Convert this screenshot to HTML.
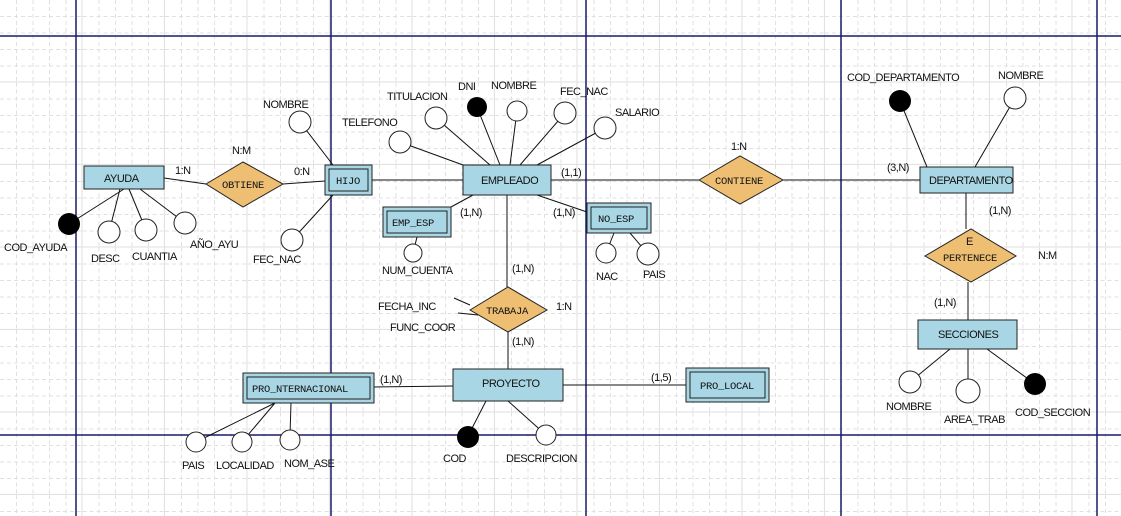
<!DOCTYPE html>
<html><head><meta charset="utf-8"><style>
html,body{margin:0;padding:0;background:#fff;}
svg{display:block;}
text{font-family:"Liberation Sans",sans-serif;font-size:11px;letter-spacing:-0.5px;fill:#111;}
.m{font-family:"Liberation Mono",monospace;font-size:10.5px;letter-spacing:-0.3px;}
</style></head><body>
<svg width="1121" height="516" viewBox="0 0 1121 516" xmlns="http://www.w3.org/2000/svg">
<defs>
<pattern id="g" width="82.5" height="82.5" patternUnits="userSpaceOnUse">
<path d="M16.5 0V82.5M33 0V82.5M49.5 0V82.5M66 0V82.5M0 16.5H82.5M0 33H82.5M0 49.5H82.5M0 66H82.5" stroke="#e0e0e0" stroke-width="1" stroke-dasharray="4,3" fill="none"/>
<path d="M82 0V82.5M0 82H82.5" stroke="#e2e2e2" stroke-width="1.2" fill="none"/>
</pattern>
</defs>
<rect width="1121" height="516" fill="url(#g)"/>
<g stroke="#1a1a6e" stroke-width="1.5">
<line x1="76" y1="0" x2="76" y2="516"/><line x1="331" y1="0" x2="331" y2="516"/>
<line x1="586" y1="0" x2="586" y2="516"/><line x1="841" y1="0" x2="841" y2="516"/>
<line x1="1097" y1="0" x2="1097" y2="516"/>
<line x1="0" y1="36" x2="1121" y2="36"/><line x1="0" y1="435" x2="1121" y2="435"/>
</g>
<g stroke="#111" stroke-width="1">
<line x1="164" y1="178" x2="206" y2="184"/><line x1="283" y1="184" x2="325" y2="181"/>
<line x1="124" y1="189" x2="69" y2="224"/><line x1="120" y1="189" x2="109" y2="232"/>
<line x1="129" y1="189" x2="146" y2="230"/><line x1="140" y1="189" x2="185" y2="223"/>
<line x1="333" y1="165" x2="300" y2="122"/><line x1="333" y1="195" x2="292" y2="240"/>
<line x1="372" y1="180" x2="463" y2="180"/>
<line x1="463" y1="165" x2="400" y2="142"/><line x1="490" y1="165" x2="436" y2="118"/>
<line x1="500" y1="165" x2="477" y2="107"/><line x1="510" y1="165" x2="517" y2="111"/>
<line x1="520" y1="165" x2="565" y2="113"/><line x1="537" y1="165" x2="605" y2="128"/>
<line x1="551" y1="180" x2="699" y2="180"/><line x1="783" y1="180" x2="920" y2="180"/>
<line x1="473" y1="195" x2="451" y2="207"/><line x1="537" y1="195" x2="587" y2="212"/>
<line x1="507" y1="195" x2="507" y2="287"/><line x1="508" y1="332" x2="508" y2="369"/>
<line x1="417" y1="237" x2="413" y2="253"/>
<line x1="614" y1="233" x2="606" y2="253"/><line x1="630" y1="233" x2="648" y2="254"/>
<line x1="454" y1="298" x2="470" y2="305"/><line x1="458" y1="313" x2="478" y2="315"/>
<line x1="374" y1="387" x2="453" y2="386"/><line x1="563" y1="385" x2="686" y2="385"/>
<line x1="275" y1="403" x2="196" y2="442"/><line x1="275" y1="403" x2="242" y2="442"/>
<line x1="291" y1="403" x2="290" y2="435"/>
<line x1="486" y1="401" x2="468" y2="436"/><line x1="508" y1="401" x2="546" y2="435"/>
<line x1="927" y1="167" x2="900" y2="101"/><line x1="975" y1="167" x2="1015" y2="98"/>
<line x1="966" y1="193" x2="966" y2="229"/><line x1="968" y1="282" x2="968" y2="320"/>
<line x1="950" y1="349" x2="910" y2="382"/><line x1="968" y1="349" x2="968" y2="391"/>
<line x1="987" y1="349" x2="1035" y2="384"/>
</g>
<g fill="#a9d6e4" stroke="#222" stroke-width="1">
<rect x="84" y="166" width="80" height="23"/>
<rect x="325" y="165" width="47" height="30"/><rect x="329" y="169" width="39" height="22"/>
<rect x="463" y="165" width="88" height="30"/>
<rect x="383" y="207" width="68" height="30"/><rect x="387" y="211" width="60" height="22"/>
<rect x="587" y="203" width="64" height="30"/><rect x="591" y="207" width="56" height="22"/>
<rect x="920" y="167" width="93" height="26"/>
<rect x="918" y="320" width="99" height="29"/>
<rect x="453" y="369" width="110" height="32"/>
<rect x="243" y="373" width="131" height="30"/><rect x="247" y="377" width="123" height="22"/>
<rect x="686" y="368" width="83" height="34"/><rect x="690" y="372" width="75" height="26"/>
</g>
<g fill="#eebf73" stroke="#222" stroke-width="1">
<polygon points="206,184 243,162 283,184 243,207"/>
<polygon points="699,180 740,156 783,180 740,204"/>
<polygon points="925,256 971,229 1016,256 971,282"/>
<polygon points="470,310 508,287 547,310 508,332"/>
</g>
<g fill="#fff" stroke="#222" stroke-width="1">
<circle cx="109" cy="232" r="11"/><circle cx="146" cy="230" r="11"/><circle cx="185" cy="223" r="11"/>
<circle cx="300" cy="122" r="11"/><circle cx="292" cy="240" r="11"/>
<circle cx="400" cy="142" r="11"/><circle cx="436" cy="118" r="11"/>
<circle cx="517" cy="111" r="10"/><circle cx="565" cy="113" r="11"/><circle cx="605" cy="128" r="11"/>
<circle cx="413" cy="253" r="9"/><circle cx="606" cy="253" r="10"/><circle cx="648" cy="254" r="11"/>
<circle cx="1015" cy="98" r="11"/><circle cx="910" cy="382" r="11"/><circle cx="968" cy="391" r="12"/>
<circle cx="196" cy="442" r="10"/><circle cx="242" cy="442" r="10"/><circle cx="290" cy="440" r="10"/>
<circle cx="546" cy="435" r="10"/>
</g>
<g fill="#000">
<circle cx="69" cy="224" r="11"/><circle cx="477" cy="107" r="10"/><circle cx="900" cy="101" r="11"/>
<circle cx="1035" cy="384" r="11"/><circle cx="468" cy="437" r="11"/>
</g>
<g>
<text x="104" y="182">AYUDA</text>
<text class="m" x="222" y="188">OBTIENE</text>
<text class="m" x="336" y="184">HIJO</text>
<text x="481" y="184">EMPLEADO</text>
<text class="m" x="392" y="226">EMP_ESP</text>
<text class="m" x="598" y="222">NO_ESP</text>
<text class="m" x="715" y="184">CONTIENE</text>
<text x="929" y="184">DEPARTAMENTO</text>
<text x="966" y="245">E</text>
<text class="m" x="943" y="261">PERTENECE</text>
<text x="938" y="338">SECCIONES</text>
<text class="m" x="486" y="314">TRABAJA</text>
<text x="482" y="387">PROYECTO</text>
<text class="m" x="252" y="392">PRO_NTERNACIONAL</text>
<text class="m" x="700" y="389">PRO_LOCAL</text>

<text x="175" y="174">1:N</text><text x="232" y="154">N:M</text><text x="294" y="175">0:N</text>
<text x="4" y="251">COD_AYUDA</text><text x="91" y="262">DESC</text><text x="132" y="260">CUANTIA</text>
<text x="190" y="248">AÑO_AYU</text>
<text x="263" y="108">NOMBRE</text><text x="253" y="263">FEC_NAC</text>
<text x="342" y="126">TELEFONO</text><text x="387" y="100">TITULACION</text><text x="458" y="90">DNI</text>
<text x="491" y="89">NOMBRE</text><text x="560" y="95">FEC_NAC</text><text x="615" y="116">SALARIO</text>
<text x="561" y="176">(1,1)</text><text x="460" y="216">(1,N)</text><text x="553" y="216">(1,N)</text>
<text x="382" y="274">NUM_CUENTA</text><text x="596" y="280">NAC</text><text x="643" y="278">PAIS</text>
<text x="512" y="272">(1,N)</text><text x="556" y="310">1:N</text><text x="512" y="345">(1,N)</text>
<text x="378" y="310">FECHA_INC</text><text x="390" y="331">FUNC_COOR</text>
<text x="380" y="383">(1,N)</text><text x="651" y="381">(1,5)</text>
<text x="182" y="469">PAIS</text><text x="216" y="469">LOCALIDAD</text><text x="284" y="467">NOM_ASE</text>
<text x="443" y="462">COD</text><text x="506" y="462">DESCRIPCION</text>
<text x="731" y="150">1:N</text>
<text x="847" y="81">COD_DEPARTAMENTO</text><text x="998" y="79">NOMBRE</text>
<text x="887" y="171">(3,N)</text><text x="989" y="214">(1,N)</text><text x="1038" y="259">N:M</text>
<text x="934" y="306">(1,N)</text>
<text x="886" y="410">NOMBRE</text><text x="944" y="423">AREA_TRAB</text><text x="1015" y="416">COD_SECCION</text>
</g>
</svg>
</body></html>
